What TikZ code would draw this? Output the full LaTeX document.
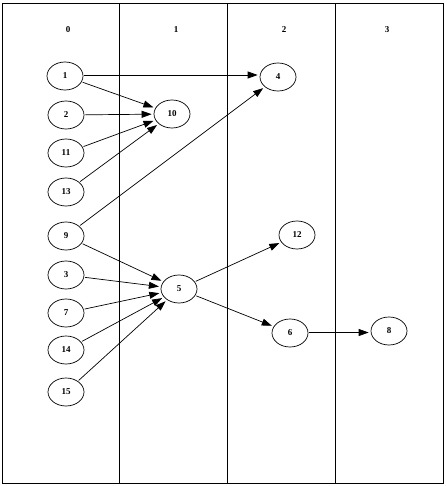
\documentclass[tikz,border=0pt]{standalone}
\usepackage{fontspec}
\setmainfont{Liberation Serif}
\usetikzlibrary{shapes.geometric,arrows.meta}
\begin{document}
\begin{tikzpicture}[x=1pt,y=-1pt,
  vnode/.style={ellipse,draw,line width=0.7pt,minimum width=36pt,minimum height=28pt,inner sep=0pt,font=\fontsize{9}{10}\selectfont\bfseries},
  hdr/.style={font=\fontsize{9}{10}\selectfont\bfseries},
  edge/.style={-{Triangle[length=10pt,width=7pt]},line width=0.7pt,shorten >=2pt,shorten <=1pt},
  frame/.style={line width=1pt}]
\useasboundingbox (0,0) rectangle (446,486);
\draw[frame] (2.5,3.5) rectangle (443,483);
\draw[frame] (119.3,3.5) -- (119.3,483);
\draw[frame] (227.3,3.5) -- (227.3,483);
\draw[frame] (335.3,3.5) -- (335.3,483);
\node[hdr] (h0) at (68,30) {0};
\node[hdr] (h1) at (176,30) {1};
\node[hdr] (h2) at (284,30) {2};
\node[hdr] (h3) at (387,30) {3};
\node[vnode] (n1) at (65,76) {1};
\node[vnode] (n2) at (66,115) {2};
\node[vnode] (n11) at (66,153) {11};
\node[vnode] (n13) at (66,192) {13};
\node[vnode] (n9) at (66,236) {9};
\node[vnode] (n3) at (66,275) {3};
\node[vnode] (n7) at (66,313) {7};
\node[vnode] (n14) at (66,350) {14};
\node[vnode] (n15) at (66,392) {15};
\node[vnode] (n10) at (172,114) {10};
\node[vnode] (n5) at (179,289) {5};
\node[vnode] (n4) at (278,77) {4};
\node[vnode] (n12) at (297,235) {12};
\node[vnode] (n6) at (290,333) {6};
\node[vnode] (n8) at (389,331) {8};
\draw[edge] (n1.east |- 0,75) -- (n4.west |- 0,75);
\draw[edge] (n1) -- (n10);
\draw[edge] (n2) -- (n10);
\draw[edge] (n11) -- (n10);
\draw[edge] (n13) -- (n10);
\draw[edge] (n9) -- (n4);
\draw[edge] (n9) -- (n5);
\draw[edge] (n3) -- (n5);
\draw[edge] (n7) -- (n5);
\draw[edge] (n14) -- (n5);
\draw[edge] (n15) -- (n5);
\draw[edge] (n5) -- (n12);
\draw[edge] (n5) -- (n6);
\draw[edge] (n6.east |- 0,332.5) -- (n8.west |- 0,332.5);
\end{tikzpicture}
\end{document}
